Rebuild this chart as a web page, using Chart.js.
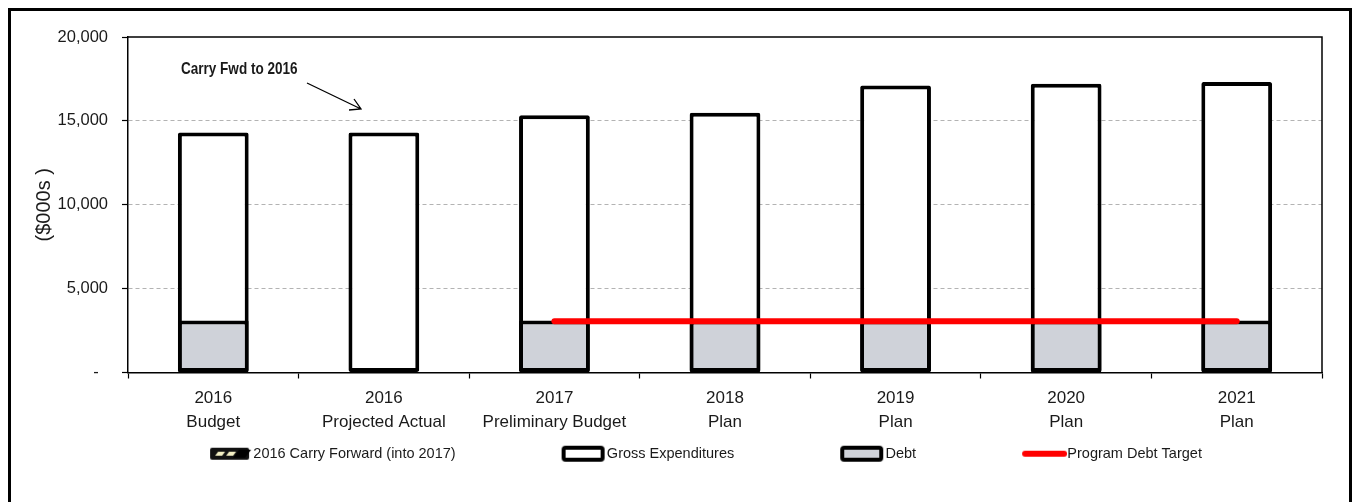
<!DOCTYPE html>
<html>
<head>
<meta charset="utf-8">
<script src="https://cdn.jsdelivr.net/npm/chart.js@4.4.1/dist/chart.umd.min.js"></script>
<style>
  html, body { margin: 0; padding: 0; background: #fff; }
  #wrap { position: relative; width: 1353px; height: 502px; }
</style>
</head>
<body>
<div id="wrap"><canvas id="chart" width="1353" height="502"></canvas></div>
<script>
const categories = [
    ['2016', 'Budget'],
    ['2016', 'Projected Actual'],
    ['2017', 'Preliminary Budget'],
    ['2018', 'Plan'],
    ['2019', 'Plan'],
    ['2020', 'Plan'],
    ['2021', 'Plan']
];
const carryForward = [null, null, null, null, null, null, null];
const grossExpenditures = [14300, 14300, 15330, 15480, 17110, 17210, 17310];
const debt = [3100, 0, 3100, 3100, 3100, 3100, 3100];
const debtTarget = [null, null, 3050, 3050, 3050, 3050, 3050];
const yTicks = [0, 5000, 10000, 15000, 20000];

const FONT = "'Liberation Sans', Arial, sans-serif";
const TEXT = '#1a1a1a';
const DEBT_FILL = '#cfd2d9';
const LEG_FONT = 14.5;
const LEG_W = 130;

// legend swatches drawn on small canvases, box sits at the right end
function swatch(kind) {
    const c = document.createElement('canvas');
    c.width = LEG_W + LEG_FONT;
    c.height = 18;
    const g = c.getContext('2d');
    const r = c.width - 2, l = r - 43;
    if (kind === 'line') {
        g.strokeStyle = '#ff0000';
        g.lineWidth = 6;
        g.lineCap = 'round';
        g.beginPath();
        g.moveTo(l + 3, 9);
        g.lineTo(r - 1, 9);
        g.stroke();
        return c;
    }
    g.beginPath();
    g.roundRect(l + 2, 3, 39, 12, 2);
    g.fillStyle = kind === 'debt' ? DEBT_FILL : (kind === 'carry' ? '#111' : '#fff');
    g.fill();
    if (kind === 'carry') {
        g.fillStyle = '#f3efc4';
        for (let i = 0; i < 3; i++) {
            const x0 = l + 7 + i * 11;
            g.beginPath();
            g.moveTo(x0 + 3, 7);
            g.lineTo(x0 + 10, 7);
            g.lineTo(x0 + 7, 11);
            g.lineTo(x0, 11);
            g.closePath();
            g.fill();
        }
    }
    g.lineWidth = 4;
    g.strokeStyle = '#000';
    g.stroke();
    return c;
}

const swatches = {
    carry: swatch('carry'),
    gross: swatch('gross'),
    debt: swatch('debt'),
    line: swatch('line')
};

const decor = {
    id: 'decor',
    afterLayout(chart) {
        // nudge the legend row a bit to the left, like the original
        chart.legend.left -= 16;
        chart.legend.right -= 16;
    },
    afterDraw(chart) {
        const ctx = chart.ctx;
        const a = chart.chartArea;
        ctx.save();
        // plot box
        ctx.strokeStyle = '#000';
        ctx.lineWidth = 1.5;
        ctx.beginPath();
        ctx.moveTo(a.left, a.top);
        ctx.lineTo(a.right, a.top);
        ctx.lineTo(a.right, a.bottom);
        ctx.stroke();
        // outer frame
        ctx.lineWidth = 3;
        ctx.strokeRect(9.5, 9.5, 1341, 510);
        // annotation, squeezed to look like a narrow bold face
        ctx.save();
        ctx.translate(181, 74);
        ctx.scale(0.82, 1);
        ctx.fillStyle = TEXT;
        ctx.font = "bold 16.5px 'Liberation Sans', Arial, sans-serif";
        ctx.textBaseline = 'alphabetic';
        ctx.fillText('Carry Fwd to 2016', 0, 0);
        ctx.restore();
        ctx.lineWidth = 1.3;
        ctx.strokeStyle = '#000';
        ctx.beginPath();
        ctx.moveTo(307, 83);
        ctx.lineTo(361, 109);
        ctx.moveTo(349, 110);
        ctx.lineTo(361, 109);
        ctx.lineTo(354, 99);
        ctx.stroke();
        ctx.restore();
    }
};

new Chart(document.getElementById('chart'), {
    data: {
        labels: categories,
        datasets: [
            {
                type: 'line',
                label: 'Program Debt Target',
                data: debtTarget,
                borderColor: '#ff0000',
                borderWidth: 6,
                borderCapStyle: 'round',
                pointRadius: 0,
                order: 0,
                swatch: 'line'
            },
            {
                type: 'bar',
                label: 'Debt',
                data: debt,
                backgroundColor: DEBT_FILL,
                borderColor: '#000',
                borderWidth: 4,
                borderSkipped: false,
                borderRadius: 1,
                order: 1,
                swatch: 'debt'
            },
            {
                type: 'bar',
                label: 'Gross Expenditures',
                data: grossExpenditures,
                backgroundColor: '#fff',
                borderColor: '#000',
                borderWidth: 4,
                borderSkipped: false,
                borderRadius: 2,
                order: 2,
                swatch: 'gross'
            },
            {
                type: 'bar',
                label: '2016 Carry Forward (into 2017)',
                data: carryForward,
                backgroundColor: '#111',
                borderColor: '#000',
                borderWidth: 0,
                order: 3,
                swatch: 'carry'
            }
        ]
    },
    options: {
        responsive: false,
        animation: false,
        devicePixelRatio: 1,
        layout: { padding: { left: 28, right: 31, top: 37, bottom: 31 } },
        datasets: { bar: { categoryPercentage: 1, barPercentage: 0.415 } },
        scales: {
            x: {
                stacked: true,
                afterFit: s => { s.height = 60; },
                grid: { offset: true, drawOnChartArea: false, tickLength: 6, tickColor: '#000', tickWidth: 1.2 },
                border: { color: '#000', width: 1.5 },
                ticks: { color: TEXT, padding: 8, font: { family: FONT, size: 17, lineHeight: 1.4 } }
            },
            y: {
                min: 0,
                max: 20000,
                afterFit: s => { s.width = 100; },
                afterBuildTicks: s => { s.ticks = yTicks.map(v => ({ value: v })); },
                title: {
                    display: true,
                    text: '($000s )',
                    color: TEXT,
                    padding: { top: 4, bottom: 4 },
                    font: { family: FONT, size: 20 }
                },
                grid: {
                    color: c => (c.tick.value === 0 || c.tick.value === 20000) ? 'rgba(0,0,0,0)' : '#b3b3b3',
                    lineWidth: 1,
                    tickLength: 6,
                    tickColor: '#000',
                    tickWidth: 1.2,
                    tickBorderDash: []
                },
                border: { color: '#000', width: 1.5, dash: [4, 3] },
                ticks: {
                    color: TEXT,
                    padding: 14,
                    font: { family: FONT, size: 16.5 },
                    callback: v => v === 0 ? '-  ' : v.toLocaleString('en-US')
                }
            }
        },
        plugins: {
            tooltip: { enabled: false },
            legend: {
                position: 'bottom',
                labels: {
                    color: TEXT,
                    font: { family: FONT, size: LEG_FONT },
                    usePointStyle: true,
                    pointStyleWidth: LEG_W,
                    boxHeight: LEG_FONT,
                    padding: 14,
                    generateLabels: chart => chart.data.datasets.map((ds, i) => ({
                        text: ds.label,
                        datasetIndex: i,
                        pointStyle: swatches[ds.swatch],
                        fillStyle: 'transparent',
                        strokeStyle: 'transparent',
                        lineWidth: 0,
                        fontColor: TEXT,
                        hidden: false
                    })),
                    sort: (a, b) => b.datasetIndex - a.datasetIndex
                }
            }
        }
    },
    plugins: [decor]
});
</script>
</body>
</html>
